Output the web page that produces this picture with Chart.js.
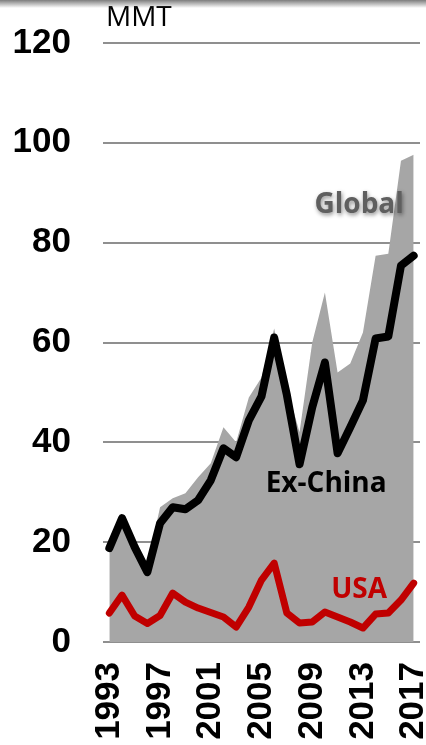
<!DOCTYPE html>
<html>
<head>
<meta charset="utf-8">
<script src="https://cdn.jsdelivr.net/npm/chart.js@4"></script>
<style>
  html, body { margin: 0; padding: 0; background: #fff; }
  #wrap { position: relative; width: 426px; height: 745px; overflow: hidden; }
  #shade { position: absolute; left: 0; top: 0; width: 426px; height: 8px;
           background: linear-gradient(to bottom, #7d7d7d, rgba(255,255,255,0)); }
</style>
</head>
<body>
<div id="wrap">
  <canvas id="chart" width="426" height="762"></canvas>
  <div id="shade"></div>
</div>
<script>
const years = ['1993','1994','1995','1996','1997','1998','1999','2000','2001','2002','2003','2004',
  '2005','2006','2007','2008','2009','2010','2011','2012','2013','2014','2015','2016','2017'];

const globalVals = [19, 25, 19.5, 15.5, 27, 28.8, 29.8, 33, 35.8, 43, 40, 49, 53, 62.8, 51, 42,
  60, 70, 54, 55.8, 62, 77.4, 77.8, 96.4, 97.6];

const exChina = [18.8, 24.8, 19, 14, 23.8, 27, 26.6, 28.4, 32.4, 38.8, 37, 44.4, 49.2, 61, 49.5, 35.6,
  47, 56, 37.8, 43, 48.4, 60.8, 61.2, 75.4, 77.4];

const usa = [5.8, 9.4, 5.2, 3.7, 5.3, 9.8, 8, 6.8, 5.9, 5, 3, 7, 12.4, 15.8, 5.8, 3.8,
  4, 6, 5, 4, 2.8, 5.6, 5.8, 8.4, 11.8];

const yTicks = [0, 20, 40, 60, 80, 100, 120];

// series labels placed in data coordinates (index, value)
const seriesLabels = [
  { text: 'Global',   at: [19.7, 87.6], color: '#5f5f5f', shadow: true },
  { text: 'Ex-China', at: [17.1, 31.6], color: '#000000' },
  { text: 'USA',      at: [19.7, 10.4], color: '#c00000' }
];

const labelPlugin = {
  id: 'labels',
  afterDatasetsDraw(chart) {
    const ctx = chart.ctx;
    const xs = chart.scales.x, ys = chart.scales.y;
    ctx.save();
    ctx.textAlign = 'center';
    ctx.textBaseline = 'middle';
    ctx.font = 'bold 28px "Open Sans"';
    seriesLabels.forEach(l => {
      ctx.save();
      if (l.shadow) {
        ctx.shadowColor = 'rgba(0,0,0,0.45)';
        ctx.shadowBlur = 4;
        ctx.shadowOffsetX = 1;
        ctx.shadowOffsetY = 2;
      }
      ctx.fillStyle = l.color;
      ctx.fillText(l.text, xs.getPixelForValue(l.at[0]), ys.getPixelForValue(l.at[1]));
      ctx.restore();
    });
    // unit label
    ctx.textAlign = 'left';
    ctx.font = '28px "Open Sans"';
    ctx.fillStyle = '#000';
    ctx.fillText('MMT', chart.chartArea.left + 3, chart.chartArea.top - 25);
    ctx.restore();
  }
};

// drop the extra room Chart.js keeps for first/last tick labels
function noPad(s) {
  s.paddingLeft = 0;
  s.paddingRight = 0;
  s.paddingTop = 0;
  s.paddingBottom = 0;
}

new Chart(document.getElementById('chart').getContext('2d'), {
  type: 'line',
  data: {
    labels: years,
    datasets: [
      {
        label: 'USA',
        data: usa,
        borderColor: '#c00000',
        borderWidth: 7,
        borderJoinStyle: 'round',
        borderCapStyle: 'round',
        pointRadius: 0,
        fill: false,
        order: 1
      },
      {
        label: 'Ex-China',
        data: exChina,
        borderColor: '#000000',
        borderWidth: 8,
        borderJoinStyle: 'round',
        borderCapStyle: 'round',
        pointRadius: 0,
        fill: false,
        order: 2
      },
      {
        label: 'Global',
        data: globalVals,
        borderWidth: 0,
        borderColor: 'rgba(0,0,0,0)',
        backgroundColor: '#a6a6a6',
        pointRadius: 0,
        fill: 'origin',
        order: 3
      }
    ]
  },
  options: {
    responsive: false,
    animation: false,
    layout: { padding: { top: 43, right: 6, left: 0, bottom: 0 } },
    plugins: {
      legend: { display: false },
      tooltip: { enabled: false }
    },
    scales: {
      x: {
        offset: true,
        grid: { display: false, drawTicks: false },
        border: { display: false },
        afterFit: s => { s.height = 120; noPad(s); },
        ticks: {
          autoSkip: false,
          maxRotation: 90,
          minRotation: 90,
          padding: 20,
          color: '#000',
          font: { family: '"Liberation Sans", Arial', size: 35, weight: 'bold' },
          callback: (v, i) => (i % 4 === 0 ? years[i] : '')
        }
      },
      y: {
        min: 0,
        max: 120,
        afterFit: s => { s.width = 103; noPad(s); },
        afterBuildTicks: s => { s.ticks = yTicks.map(v => ({ value: v })); },
        grid: { color: '#8f8f8f', lineWidth: 2, drawTicks: false },
        border: { display: false },
        ticks: {
          padding: 32,
          color: '#000',
          font: { family: '"Liberation Sans", Arial', size: 35, weight: 'bold' }
        }
      }
    }
  },
  plugins: [labelPlugin]
});
</script>
</body>
</html>
